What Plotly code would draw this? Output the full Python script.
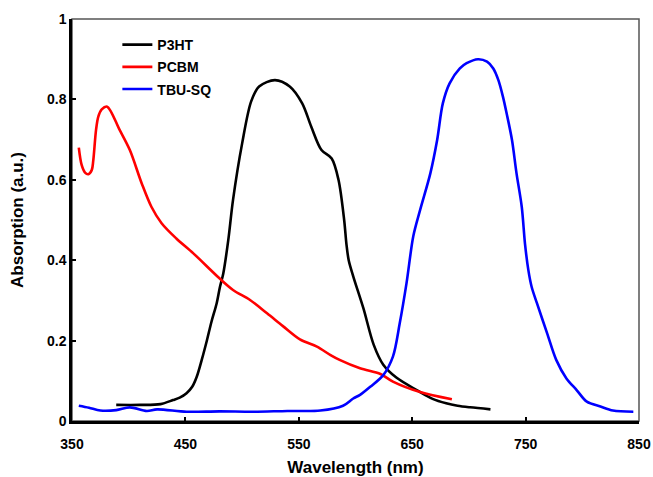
import plotly.graph_objects as go

# ---- data ----
p3ht_x = [389, 410, 428, 439, 445, 451, 456, 460, 464.4, 469, 473, 477.6, 480.5, 483.4, 487.8,
          492, 500, 508, 515, 529, 542, 553, 561, 570, 579, 585, 590, 592, 594, 598, 607, 616,
          624.5, 636, 654, 668, 680, 690, 701, 719]
p3ht_y = [0.040, 0.040, 0.042, 0.052, 0.058, 0.069, 0.085, 0.110, 0.152, 0.201, 0.247, 0.293,
          0.334, 0.367, 0.450, 0.550, 0.690, 0.795, 0.832, 0.848, 0.832, 0.790, 0.732, 0.674,
          0.653, 0.600, 0.500, 0.440, 0.400, 0.360, 0.280, 0.190, 0.140, 0.108, 0.077, 0.055,
          0.044, 0.038, 0.034, 0.029]

pcbm_x = [356, 358.5, 361.5, 364.4, 367.4, 368.8, 371.2, 373.2, 376.2, 381, 392, 401, 411.5,
          420, 429, 442, 457, 480, 492, 507, 522, 536, 551, 566, 578, 586, 604, 622, 633, 657, 685]
pcbm_y = [0.680, 0.637, 0.618, 0.614, 0.624, 0.649, 0.724, 0.757, 0.775, 0.782, 0.724, 0.674,
          0.591, 0.533, 0.492, 0.454, 0.417, 0.355, 0.326, 0.301, 0.268, 0.236, 0.203, 0.185,
          0.164, 0.152, 0.131, 0.117, 0.098, 0.072, 0.054]

sq_x = [356, 365, 375, 389, 401, 416, 425, 451, 480, 510, 540, 569, 589, 598, 604, 613, 624.5,
        633, 639, 645, 651, 657, 666, 672, 677, 683, 692, 698, 708, 716, 721.5, 726, 730, 733.3,
        738, 742, 746.6, 749.5, 752.4, 755.3, 760, 769, 777, 786, 795, 804, 816, 827, 845]
sq_y = [0.038, 0.033, 0.026, 0.027, 0.034, 0.025, 0.029, 0.023, 0.024, 0.023, 0.025, 0.026,
        0.038, 0.056, 0.065, 0.085, 0.114, 0.160, 0.243, 0.343, 0.460, 0.525, 0.616, 0.699,
        0.790, 0.840, 0.877, 0.890, 0.900, 0.894, 0.877, 0.848, 0.807, 0.765, 0.699, 0.616,
        0.533, 0.440, 0.376, 0.334, 0.293, 0.218, 0.152, 0.106, 0.077, 0.048, 0.036, 0.026, 0.023]

x_ticks = [350, 450, 550, 650, 750, 850]
y_ticks = [0, 0.2, 0.4, 0.6, 0.8, 1]
y_tick_labels = ["0", "0.2", "0.4", "0.6", "0.8", "1"]

FONT = "Arial, Liberation Sans, sans-serif"
LINE = dict(width=2.6, shape="spline", smoothing=0.9)

fig = go.Figure()
fig.add_trace(go.Scatter(x=p3ht_x, y=p3ht_y, name="P3HT", mode="lines", legendgroup="a",
                         line=dict(color="#000000", **LINE)))
fig.add_trace(go.Scatter(x=pcbm_x, y=pcbm_y, name="PCBM", mode="lines", legendgroup="b",
                         line=dict(color="#ff0000", **LINE)))
fig.add_trace(go.Scatter(x=sq_x, y=sq_y, name="TBU-SQ", mode="lines", legendgroup="c",
                         line=dict(color="#0000ff", **LINE)))

# thin grey frame on top/right
fig.add_shape(type="rect", xref="paper", yref="paper", x0=0, y0=0, x1=1, y1=1,
              line=dict(color="#555555", width=1.5), layer="below")

fig.update_layout(
    width=653, height=477,
    margin=dict(l=72, r=14, t=19, b=56, autoexpand=False),
    paper_bgcolor="white", plot_bgcolor="white",
    font=dict(family=FONT, size=14, color="#000000", weight="bold"),
    showlegend=True,
    legend=dict(x=0.08, y=0.975, xanchor="left", yanchor="top",
                bgcolor="rgba(0,0,0,0)", borderwidth=0,
                font=dict(family=FONT, size=14, weight="bold"),
                tracegroupgap=1, itemwidth=30),
    xaxis=dict(range=[350, 850], tickvals=x_ticks, ticks="inside", ticklen=4, tickwidth=2,
               tickcolor="#000000", showline=True, linecolor="#000000", linewidth=2.5,
               showgrid=False, zeroline=False, ticklabelstandoff=8, automargin=False,
               tickfont=dict(family=FONT, size=14, weight="bold"),
               title=dict(text="Wavelength (nm)", font=dict(family=FONT, size=17, weight="bold"),
                          standoff=17)),
    yaxis=dict(range=[0, 1], tickvals=y_ticks, ticktext=y_tick_labels, ticks="inside",
               ticklen=4, tickwidth=2, tickcolor="#000000", showline=True,
               linecolor="#000000", linewidth=2.5, showgrid=False, zeroline=False,
               automargin=False,
               tickfont=dict(family=FONT, size=14, weight="bold"),
               title=dict(text="Absorption (a.u.)", font=dict(family=FONT, size=17, weight="bold"),
                          standoff=20)),
)

fig.write_html("out.html", config={"displayModeBar": False},
               post_script="document.body.style.margin='0';document.body.style.overflow='hidden';")
